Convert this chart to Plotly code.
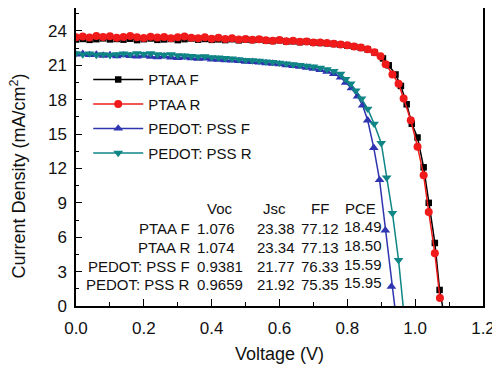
import plotly.graph_objects as go

# ---------------- data ----------------
ptaa_r_v = [0.00,0.02,0.04,0.06,0.08,0.10,0.12,0.14,0.16,0.18,0.20,0.22,0.24,0.26,0.28,0.30,
            0.32,0.34,0.36,0.38,0.40,0.42,0.44,0.46,0.48,0.50,0.52,0.54,0.56,0.58,0.60,0.62,
            0.64,0.66,0.68,0.70,0.72,0.74,0.76,0.78,0.80,0.82,0.84,0.86,0.88,
            0.898,0.913,0.933,0.951,0.966,0.987,1.007,1.025,1.040,1.058,1.073]
ptaa_r_j = [23.45,23.52,23.42,23.56,23.48,23.53,23.40,23.47,23.56,23.44,23.38,23.50,23.42,23.46,23.35,23.44,
            23.52,23.40,23.36,23.45,23.32,23.40,23.30,23.35,23.25,23.30,23.22,23.28,23.18,23.15,23.20,23.10,
            23.14,23.05,23.08,23.00,22.98,22.95,22.88,22.82,22.75,22.65,22.55,22.40,22.15,
            21.80,21.10,20.20,19.40,18.10,16.20,13.90,11.40,8.20,4.60,0.70]

ptaa_f_v = [0.00,0.02,0.04,0.06,0.08,0.10,0.12,0.14,0.16,0.18,0.20,0.22,0.24,0.26,0.28,0.30,
            0.32,0.34,0.36,0.38,0.40,0.42,0.44,0.46,0.48,0.50,0.52,0.54,0.56,0.58,0.60,0.62,
            0.64,0.66,0.68,0.70,0.72,0.74,0.76,0.78,0.80,0.82,0.84,0.86,0.88,
            0.905,0.922,0.942,0.958,0.975,0.990,1.007,1.025,1.040,1.058,1.072,1.090]
ptaa_f_j = [23.25,23.30,23.22,23.28,23.35,23.26,23.30,23.24,23.32,23.20,23.28,23.34,23.22,23.26,23.30,23.20,
            23.28,23.34,23.24,23.30,23.22,23.26,23.20,23.28,23.18,23.24,23.20,23.25,23.15,23.12,23.18,23.08,
            23.10,23.02,23.06,22.98,22.95,22.92,22.86,22.80,22.72,22.62,22.52,22.38,22.12,
            21.60,21.00,20.20,19.20,17.60,15.90,14.70,12.10,9.00,5.50,1.40,-1.50]

pedot_f_v = [0.00,0.02,0.04,0.06,0.08,0.10,0.12,0.14,0.16,0.18,0.20,0.22,0.24,0.26,0.28,0.30,
             0.32,0.34,0.36,0.38,0.40,0.42,0.44,0.46,0.48,0.50,0.52,0.54,0.56,0.58,0.60,0.62,
             0.64,0.66,0.68,0.70,0.72,0.74,0.76,0.78,
             0.795,0.812,0.830,0.845,0.860,0.878,0.895,0.912,0.930,0.947]
pedot_f_j = [21.95,22.00,21.90,21.95,21.85,21.90,21.80,21.88,21.82,21.78,21.85,21.75,21.72,21.78,21.70,21.65,
             21.70,21.62,21.58,21.60,21.52,21.50,21.45,21.42,21.38,21.32,21.30,21.25,21.20,21.15,21.10,21.02,
             20.95,20.88,20.80,20.72,20.60,20.45,20.25,19.95,
             19.50,19.00,18.30,17.50,16.20,13.80,11.00,6.60,1.70,-1.80]

pedot_r_v = [0.00,0.02,0.04,0.06,0.08,0.10,0.12,0.14,0.16,0.18,0.20,0.22,0.24,0.26,0.28,0.30,
             0.32,0.34,0.36,0.38,0.40,0.42,0.44,0.46,0.48,0.50,0.52,0.54,0.56,0.58,0.60,0.62,
             0.64,0.66,0.68,0.70,0.72,0.74,0.76,0.78,
             0.795,0.810,0.825,0.842,0.860,0.879,0.900,0.916,0.933,0.951,0.968]
pedot_r_j = [22.05,21.95,22.02,21.90,21.96,21.88,21.95,22.02,21.96,22.05,21.98,22.04,21.95,21.90,21.96,21.86,
             21.84,21.80,21.76,21.78,21.70,21.66,21.62,21.58,21.52,21.46,21.42,21.38,21.32,21.28,21.22,21.15,
             21.08,21.02,20.95,20.88,20.78,20.65,20.50,20.25,
             19.80,19.40,18.80,18.10,17.20,15.90,14.20,11.20,8.10,4.00,-1.00]

series_names = ["PTAA F", "PTAA R", "PEDOT: PSS F", "PEDOT: PSS R"]

table_cols = ["Voc", "Jsc", "FF", "PCE"]
table_rows = ["PTAA F", "PTAA R", "PEDOT: PSS F", "PEDOT: PSS R"]
voc_vals = ["1.076", "1.074", "0.9381", "0.9659"]
jsc_vals = ["23.38", "23.34", "21.77", "21.92"]
ff_vals = ["77.12", "77.13", "76.33", "75.35"]
pce_vals = ["18.49", "18.50", "15.59", "15.95"]

x_ticks = [0.0, 0.2, 0.4, 0.6, 0.8, 1.0, 1.2]
y_ticks = [0, 3, 6, 9, 12, 15, 18, 21, 24]

# ---------------- figure ----------------
FONT = "Liberation Sans, Arial, sans-serif"
fig = go.Figure()

styles = [
    (ptaa_f_v, ptaa_f_j, "#000000", "square", 6.5),
    (ptaa_r_v, ptaa_r_j, "#f01a1a", "circle", 8),
    (pedot_f_v, pedot_f_j, "#2f35b0", "triangle-up", 8.5),
    (pedot_r_v, pedot_r_j, "#108585", "triangle-down", 8.5),
]
for i, (vx, vy, col, sym, sz) in enumerate(styles):
    fig.add_trace(go.Scatter(
        x=vx, y=vy, mode="lines+markers", name=series_names[i],
        legendgroup=f"g{i}",
        line=dict(color=col, width=1.5),
        marker=dict(symbol=sym, size=sz, color=col, line=dict(width=0)),
    ))

# table text
head_x = [0.425, 0.585, 0.718, 0.840]
val_x = [0.352, 0.590, 0.718, 0.845]
head_y = 8.5
row_y = [6.75, 5.1, 3.48, 1.91]
tfont = dict(family=FONT, size=15, color="#111111")
for cx, name in zip(head_x, table_cols):
    fig.add_annotation(x=cx, y=head_y, text=name, showarrow=False, xanchor="center",
                       yanchor="middle", font=tfont)
for ry, lab, a, b, c, d in zip(row_y, table_rows, voc_vals, jsc_vals, ff_vals, pce_vals):
    fig.add_annotation(x=0.343, y=ry, text=lab, showarrow=False, xanchor="right",
                       yanchor="middle", font=tfont)
    fig.add_annotation(x=val_x[0], y=ry, text=a, showarrow=False, xanchor="left",
                       yanchor="middle", font=tfont)
    fig.add_annotation(x=val_x[1], y=ry, text=b, showarrow=False, xanchor="center",
                       yanchor="middle", font=tfont)
    fig.add_annotation(x=val_x[2], y=ry, text=c, showarrow=False, xanchor="center",
                       yanchor="middle", font=tfont)
    fig.add_annotation(x=val_x[3], y=ry + 0.15, text=d, showarrow=False, xanchor="center",
                       yanchor="middle", font=tfont)

# y axis title as annotation (slightly below centre as in reference)
fig.add_annotation(xref="paper", yref="paper", x=-0.142, y=0.435,
                   text="Current Density (mA/cm<sup>2</sup>)", textangle=-90,
                   showarrow=False, xanchor="center", yanchor="middle",
                   font=dict(family=FONT, size=18, color="#111111"))

axis_common = dict(
    showline=True, linecolor="black", linewidth=1.5, mirror=True,
    ticks="inside", tickcolor="black", tickwidth=1.2,
    showgrid=False, zeroline=False, automargin=False,
    tickfont=dict(family=FONT, size=17, color="#111111"),
)
fig.update_xaxes(range=[0, 1.2], tickvals=x_ticks, ticktext=[f"{v:.1f}" for v in x_ticks],
                 ticklen=7, ticklabelstandoff=6,
                 minor=dict(ticks="inside", dtick=0.1, ticklen=4, tickcolor="black"),
                 title=dict(text="Voltage (V)", font=dict(family=FONT, size=18, color="#111111"),
                            standoff=10),
                 **axis_common)
fig.update_yaxes(range=[0, 26], tickvals=y_ticks, ticklen=6, ticklabelstandoff=4,
                 minor=dict(ticks="inside", tickvals=[1.5, 4.5, 7.5, 10.5, 13.5, 16.5, 19.5, 22.5, 25.5],
                            ticklen=3, tickcolor="black"),
                 **axis_common)

# page body adds an 8 px offset, so the figure is sized/margined to compensate
fig.update_layout(
    width=492, height=357,
    margin=dict(l=68, r=17, t=0, b=59),
    paper_bgcolor="white", plot_bgcolor="white",
    showlegend=True,
    legend=dict(x=0.03, y=0.815, xanchor="left", yanchor="top",
                bgcolor="rgba(0,0,0,0)", borderwidth=0, itemwidth=50,
                traceorder="grouped", tracegroupgap=2,
                font=dict(family=FONT, size=15, color="#111111")),
)

fig.write_html("out.html")
